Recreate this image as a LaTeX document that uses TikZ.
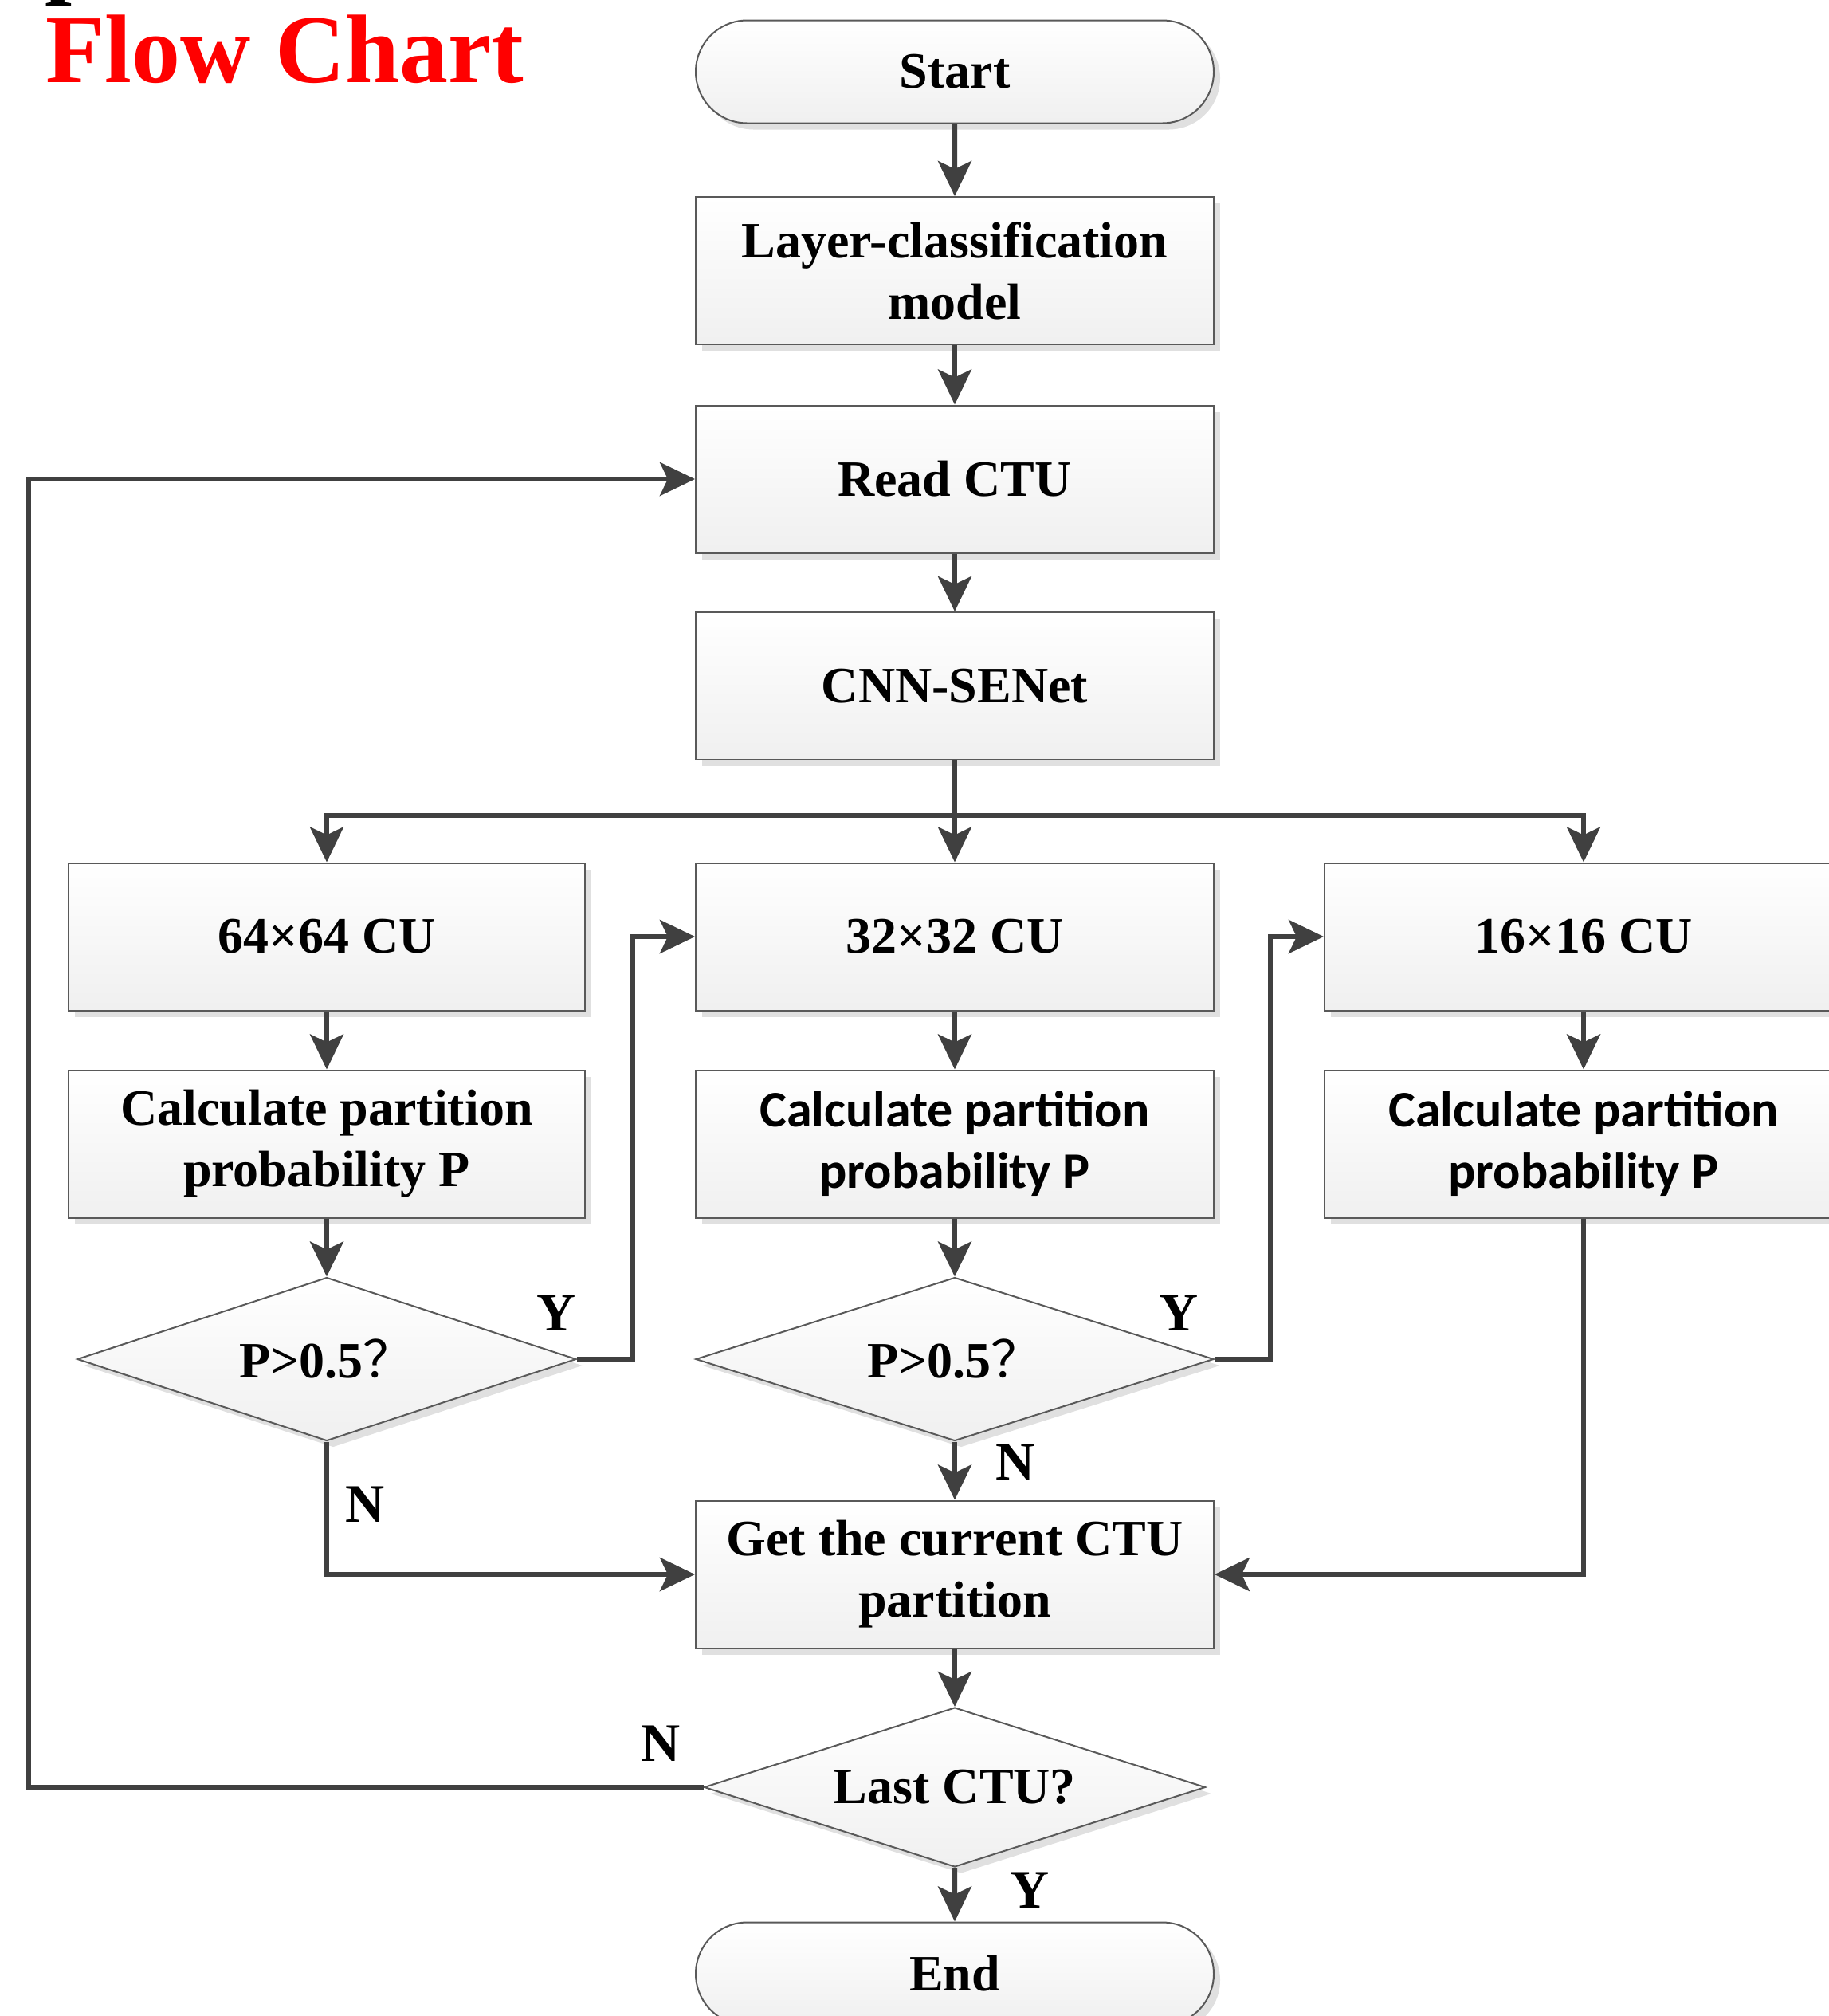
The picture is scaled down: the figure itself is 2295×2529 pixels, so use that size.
\documentclass[tikz,border=0pt]{standalone}
\usepackage{fontspec}
\setmainfont{Liberation Serif}
\newfontfamily\calib{Carlito}
\newfontfamily\cjk{Noto Sans CJK SC}
\usetikzlibrary{arrows.meta,shapes.geometric,shapes.misc,shadows}
\begin{document}
\begin{tikzpicture}[x=0.5pt,y=-0.5pt,
 every node/.style={font=\fontsize{32}{38.5}\selectfont\bfseries},
 shad/.style={drop shadow={shadow xshift=4pt,shadow yshift=-4pt,fill=black!12,opacity=1}},
 base/.style={draw=black!65,line width=1pt,top color=white,bottom color=black!6,inner sep=0pt,align=center,shad},
 proc/.style={base,rectangle,minimum width=325pt,minimum height=92.5pt},
 term/.style={base,rounded rectangle,minimum width=325pt,minimum height=64.5pt},
 dec/.style={base,diamond,aspect=3},
 arr/.style={draw=black!75,line width=3pt,-{Stealth[length=22pt,width=21pt,inset=5pt]}},
 lbl/.style={font=\fontsize{34}{40}\selectfont\bfseries,inner sep=0pt}
]
\useasboundingbox (0,0) rectangle (2295,2529);
\clip (0,0) rectangle (2295,2529);

% title
\node[anchor=base west,inner sep=0pt,font=\fontsize{61}{61}\selectfont\bfseries] (frag) at (56,-18) {p};
\node[anchor=base west,inner sep=0pt,text=red,font=\fontsize{61}{61}\selectfont\bfseries] (title) at (57,103) {Flow Chart};

% nodes
\node[term] (start) at (1198,90) {Start};
\node[proc] (layer) at (1198,339.5) {Layer-classification\\model};
\node[proc] (read) at (1198,601) {Read CTU};
\node[proc] (cnn) at (1198,860.5) {CNN-SENet};

\node[proc,minimum width=324pt] (cu64) at (410,1175) {64×64 CU};
\node[proc] (cu32) at (1198,1175) {32×32 CU};
\node[proc] (cu16) at (1987,1175) {16×16 CU};

\node[proc,minimum width=324pt] (calc64) at (410,1435) {Calculate partition\\probability P};
\node[proc,font=\fontsize{32}{38.5}\selectfont\calib\bfseries] (calc32) at (1198,1435) {Calculate partition\\probability P};
\node[proc,font=\fontsize{32}{38.5}\selectfont\calib\bfseries] (calc16) at (1987,1435) {Calculate partition\\probability P};

\node[dec,minimum width=313pt,minimum height=102.5pt] (d64) at (410,1705) {P>0.5{\cjk\mdseries ？}};
\node[dec,minimum width=325pt,minimum height=102.5pt] (d32) at (1198,1705) {P>0.5{\cjk\mdseries ？}};

\node[proc] (get) at (1198,1975) {Get the current CTU\\partition};
\node[dec,minimum width=314.5pt,minimum height=100pt] (last) at (1198,2242) {Last CTU?};
\node[term] (end) at (1198,2476) {End};

% labels
\node[lbl] (y1) at (698,1647) {Y};
\node[lbl] (y2) at (1479,1647) {Y};
\node[lbl] (n2) at (1274,1834) {N};
\node[lbl] (n1) at (458,1887) {N};
\node[lbl] (n3) at (829,2187) {N};
\node[lbl] (y3) at (1292,2371) {Y};

% helper coordinates
\coordinate (br) at (1198,1022.5);
\coordinate (ya) at (793.5,1175);
\coordinate (yb) at (1593.5,1175);
\coordinate (lp) at (35.5,601);

% connectors
\draw[arr] (start) -- (layer);
\draw[arr] (layer) -- (read);
\draw[arr] (read) -- (cnn);
\draw[arr] (cnn) -- (cu32);
\draw[arr] (br) -| (cu64.north);
\draw[arr] (br) -| (cu16.north);
\draw[arr] (cu64) -- (calc64);
\draw[arr] (cu32) -- (calc32);
\draw[arr] (cu16) -- (calc16);
\draw[arr] (calc64) -- (d64);
\draw[arr] (calc32) -- (d32);
\draw[arr] (d64.east) -| (ya) -- (cu32.west);
\draw[arr] (d32.east) -| (yb) -- (cu16.west);
\draw[arr] (d32) -- (get);
\draw[arr] (d64.south) |- (get.west);
\draw[arr] (calc16.south) |- (get.east);
\draw[arr] (get) -- (last);
\draw[arr] (last.west) -| (lp) -- (read.west);
\draw[arr] (last) -- (end);
\end{tikzpicture}
\end{document}
